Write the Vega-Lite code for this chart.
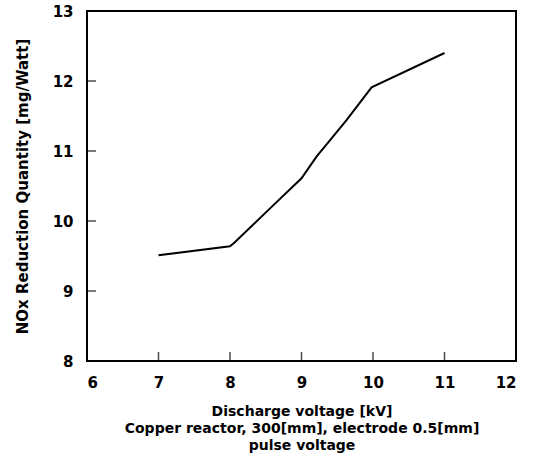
{
  "$schema": "https://vega.github.io/schema/vega-lite/v6.json",
  "autosize": "none",
  "width": 429,
  "height": 350,
  "padding": {"left": 87, "top": 11, "right": 26, "bottom": 98},
  "background": "white",
  "config": {
    "view": {"stroke": "black", "strokeWidth": 2},
    "font": "DejaVu Sans"
  },
  "datasets": {
    "curve": [
      {"v": 7.0, "q": 9.51},
      {"v": 8.0, "q": 9.64},
      {"v": 8.06, "q": 9.69},
      {"v": 8.56, "q": 10.18},
      {"v": 9.0, "q": 10.61},
      {"v": 9.21, "q": 10.92},
      {"v": 9.63, "q": 11.44},
      {"v": 9.98, "q": 11.91},
      {"v": 11.0, "q": 12.40}
    ],
    "xticks": [{"t": 7}, {"t": 8}, {"t": 9}, {"t": 10}, {"t": 11}],
    "yticks": [{"t": 9}, {"t": 10}, {"t": 11}, {"t": 12}]
  },
  "layer": [
    {
      "data": {"name": "xticks"},
      "mark": {"type": "tick", "orient": "vertical", "color": "black", "thickness": 1.5, "size": 9, "yOffset": -4.5},
      "encoding": {
        "x": {"field": "t", "type": "quantitative", "scale": {"domain": [6, 12], "nice": false}},
        "y": {"datum": 8, "type": "quantitative", "scale": {"domain": [8, 13], "nice": false, "zero": false}}
      }
    },
    {
      "data": {"name": "yticks"},
      "mark": {"type": "tick", "orient": "horizontal", "color": "black", "thickness": 1.5, "size": 9, "xOffset": 4.5},
      "encoding": {
        "y": {"field": "t", "type": "quantitative", "scale": {"domain": [8, 13], "nice": false, "zero": false}},
        "x": {"datum": 6, "type": "quantitative", "scale": {"domain": [6, 12], "nice": false}}
      }
    },
    {
      "data": {"name": "curve"},
      "mark": {"type": "line", "color": "black", "strokeWidth": 2},
      "encoding": {
        "x": {
          "field": "v",
          "type": "quantitative",
          "scale": {"domain": [6, 12], "nice": false},
          "axis": {
            "values": [6, 7, 8, 9, 10, 11, 12],
            "format": "d",
            "grid": false,
            "domain": false,
            "ticks": false,
            "labelFont": "DejaVu Sans",
            "labelFontWeight": "bold",
            "labelFontSize": 15,
            "labelColor": "black",
            "labelPadding": 14,
            "title": ["Discharge voltage [kV]", "Copper reactor, 300[mm], electrode 0.5[mm]", "pulse voltage"],
            "titleFont": "DejaVu Sans",
            "titleFontWeight": "bold",
            "titleColor": "black",
            "titleFontSize": 14,
            "titleLineHeight": 17,
            "titlePadding": 14
          }
        },
        "y": {
          "field": "q",
          "type": "quantitative",
          "scale": {"domain": [8, 13], "nice": false, "zero": false},
          "axis": {
            "values": [8, 9, 10, 11, 12, 13],
            "format": "d",
            "grid": false,
            "domain": false,
            "ticks": false,
            "labelFont": "DejaVu Sans",
            "labelFontWeight": "bold",
            "labelFontSize": 15,
            "labelColor": "black",
            "labelPadding": 14,
            "title": "NOx Reduction Quantity [mg/Watt]",
            "titleFont": "DejaVu Sans",
            "titleFontWeight": "bold",
            "titleColor": "black",
            "titleFontSize": 15,
            "titlePadding": 22
          }
        }
      }
    }
  ]
}
